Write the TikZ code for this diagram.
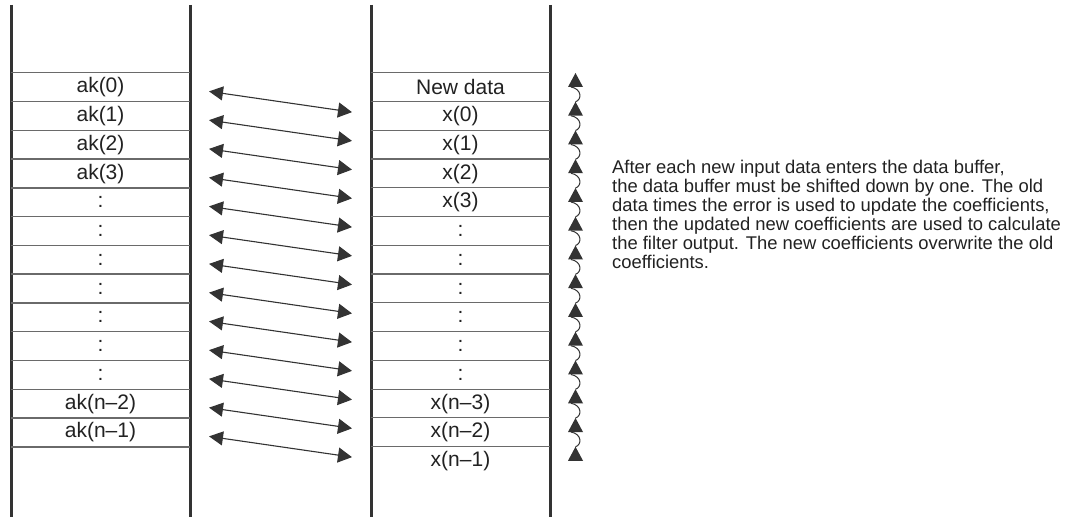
\documentclass[tikz,border=0pt]{standalone}
\usepackage{fontspec}
\setmainfont{Liberation Sans}
\usetikzlibrary{arrows.meta,calc}
\definecolor{ln}{HTML}{333333}
\definecolor{hl}{HTML}{6A6A6A}
\definecolor{txt}{HTML}{222222}
\begin{document}
\begin{tikzpicture}[x=1pt,y=-1pt,
  bufwall/.style={line width=3pt, draw=ln},
  sepline/.style={line width=1.1pt, draw=hl},
  cell/.style={font=\fontsize{21}{25}\selectfont, text=txt, inner sep=0pt, minimum width=179pt, minimum height=28.75pt},
  dbl/.style={line width=1.1pt, draw=ln, {Triangle[length=14pt,width=14pt]}-{Triangle[length=14pt,width=15pt]}},
  shiftarc/.style={line width=1pt, draw=ln},
  headtri/.style={fill=ln},
  para/.style={font=\fontsize{18.4}{18.9}\selectfont, text=txt, align=left, inner sep=0pt}]
\useasboundingbox (0,0) rectangle (1066,521);
\fill[white] (0,0) rectangle (1066,521);
\def\T{73}
\def\R{28.75}
% walls
\foreach \xx in {11,190,371,550} \draw[bufwall] (\xx,5) -- (\xx,517);
% left buffer cells
\foreach \lab [count=\i from 0] in {{ak(0)},{ak(1)},{ak(2)},{ak(3)},{:},{:},{:},{:},{:},{:},{:},{ak(n–2)},{ak(n–1)}}{
  \pgfmathsetmacro\cy{\T+(\i+0.5)*\R}
  \node[cell] (L\i) at (100.5,\cy) {\lab};
  \draw[sepline] (L\i.north west) -- (L\i.north east);
  \draw[sepline] (L\i.south west) -- (L\i.south east);
}
% right buffer cells
\foreach \lab [count=\i from 0] in {{New data},{x(0)},{x(1)},{x(2)},{x(3)},{:},{:},{:},{:},{:},{:},{x(n–3)},{x(n–2)},{x(n–1)}}{
  \pgfmathsetmacro\cy{\T+(\i+0.5)*\R}
  \node[cell] (R\i) at (460.5,\cy) {\lab};
  \draw[sepline] (R\i.north west) -- (R\i.north east);
}
% double arrows
\foreach \i in {0,...,12}{
  \pgfmathsetmacro\ya{\T+(\i+0.5)*\R+4}
  \pgfmathsetmacro\yb{\T+(\i+1.5)*\R-4}
  \coordinate (la\i) at (209,\ya);
  \coordinate (ra\i) at (352,\yb);
  \draw[dbl] (la\i) -- (ra\i);
}
% shift arrows
\foreach \k in {0,...,13}{
  \pgfmathsetmacro\Y{\T+\k*\R}
  \coordinate (t\k) at (575.5,\Y);
  \fill[headtri] (568,\Y+14) -- (t\k) -- (583,\Y+14) -- cycle;
}
\foreach \k [evaluate=\k as \kn using int(\k+1)] in {0,...,12}{
  \pgfmathsetmacro\Y{\T+\k*\R}
  \draw[shiftarc] (t\kn) .. controls (582,\Y+\R-2) and (582,\Y+16) .. (571,\Y+14);
}
% note
\node[para, anchor=north west] (note) at (612,160) {After each new input data enters the data buffer,\\
the data buffer must be shifted down by one. The old\\
data times the error is used to update the coefficients,\\
then the updated new coefficients are used to calculate\\
the filter output. The new coefficients overwrite the old\\
coefficients.};
\end{tikzpicture}
\end{document}
